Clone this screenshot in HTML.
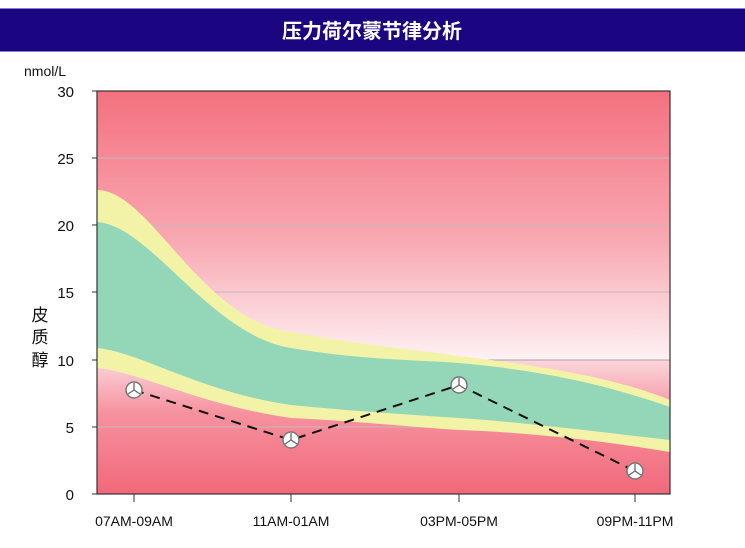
<!DOCTYPE html>
<html><head><meta charset="utf-8"><style>
body{margin:0;background:#fff;width:745px;height:543px;overflow:hidden}
svg text{font-family:"Liberation Sans","Noto Sans CJK SC",sans-serif}
</style></head><body>
<svg width="745" height="543" viewBox="0 0 745 543">
<defs>
<linearGradient id="top" x1="0" y1="0" x2="0" y2="1">
<stop offset="0" stop-color="#f4717f"/><stop offset="0.55" stop-color="#f8a8b2"/><stop offset="1" stop-color="#fdf2f4"/>
</linearGradient>
<linearGradient id="bot" x1="0" y1="0" x2="0" y2="1">
<stop offset="0" stop-color="#fbd6dc"/><stop offset="0.4" stop-color="#f6919e"/><stop offset="1" stop-color="#f1687a"/>
</linearGradient>
</defs>
<rect x="0" y="8" width="745" height="44" fill="#1b0580"/>
<line x1="0" y1="8.5" x2="745" y2="8.5" stroke="#8a7ad8"/>
<line x1="0" y1="51.5" x2="745" y2="51.5" stroke="#8a7ad8"/>
<text x="372" y="38" text-anchor="middle" fill="#fff" font-size="20" font-weight="bold">压力荷尔蒙节律分析</text>
<rect x="97" y="91" width="573" height="270" fill="url(#top)"/>
<rect x="97" y="360" width="573" height="134" fill="url(#bot)"/>
<g stroke="#c8b8bc" stroke-width="1">
<line x1="97" y1="158" x2="670" y2="158"/><line x1="97" y1="225" x2="670" y2="225"/><line x1="97" y1="292" x2="670" y2="292"/><line x1="97" y1="360" x2="670" y2="360" stroke="#b0a0a4"/><line x1="97" y1="427" x2="670" y2="427"/>
</g>
<path d="M97,190 C150,190 200,320 291,332 C360,345 420,350 459,356 C560,368 620,380 670,400 L670,452 C600,440 520,432 459,430 C400,426 340,420 291,418 C200,405 140,372 97,368 Z" fill="#f3f3a8"/>
<path d="M97,222 C150,225 210,335 291,348 C360,360 420,360 459,363 C560,372 620,390 670,407 L670,440 C600,432 520,422 459,418 C400,414 340,410 291,405 C200,392 140,352 97,348 Z" fill="#94d6b8"/>
<rect x="97" y="91" width="573" height="403" fill="none" stroke="#333" stroke-width="1.2"/>
<g stroke="#333"><line x1="92" y1="91" x2="97" y2="91"/><line x1="92" y1="158" x2="97" y2="158"/><line x1="92" y1="225" x2="97" y2="225"/><line x1="92" y1="292" x2="97" y2="292"/><line x1="92" y1="360" x2="97" y2="360"/><line x1="92" y1="427" x2="97" y2="427"/><line x1="92" y1="494" x2="97" y2="494"/>
<line x1="134" y1="494" x2="134" y2="502"/><line x1="291" y1="494" x2="291" y2="502"/><line x1="459" y1="494" x2="459" y2="502"/><line x1="635" y1="494" x2="635" y2="502"/></g>
<g font-size="15" text-anchor="end" fill="#111">
<text x="74" y="97">30</text><text x="74" y="164">25</text><text x="74" y="231">20</text><text x="74" y="298">15</text><text x="74" y="366">10</text><text x="74" y="433">5</text><text x="74" y="500">0</text>
</g>
<text x="24" y="76" font-size="14" fill="#111">nmol/L</text>
<g font-size="17" fill="#111" text-anchor="middle"><text x="40" y="321">皮</text><text x="40" y="343">质</text><text x="40" y="366">醇</text></g>
<g font-size="14" fill="#111" text-anchor="middle"><text x="134" y="526">07AM-09AM</text><text x="291" y="526">11AM-01AM</text><text x="459" y="526">03PM-05PM</text><text x="635" y="526">09PM-11PM</text></g>
<polyline points="134,390 291,440 459,385 635,471" fill="none" stroke="#111" stroke-width="2" stroke-dasharray="10,7"/>
<g fill="#fff" stroke="#777" stroke-width="1.5">
<circle cx="134" cy="390" r="8"/><circle cx="291" cy="440" r="8"/><circle cx="459" cy="385" r="8"/><circle cx="635" cy="471" r="8"/>
</g>
<g stroke="#666" stroke-width="1.3">
<path d="M134,390v-7M134,390l6,4M134,390l-6,4"/><path d="M291,440v-7M291,440l6,4M291,440l-6,4"/><path d="M459,385v-7M459,385l6,4M459,385l-6,4"/><path d="M635,471v-7M635,471l6,4M635,471l-6,4"/>
</g>
</svg>
</body></html>
